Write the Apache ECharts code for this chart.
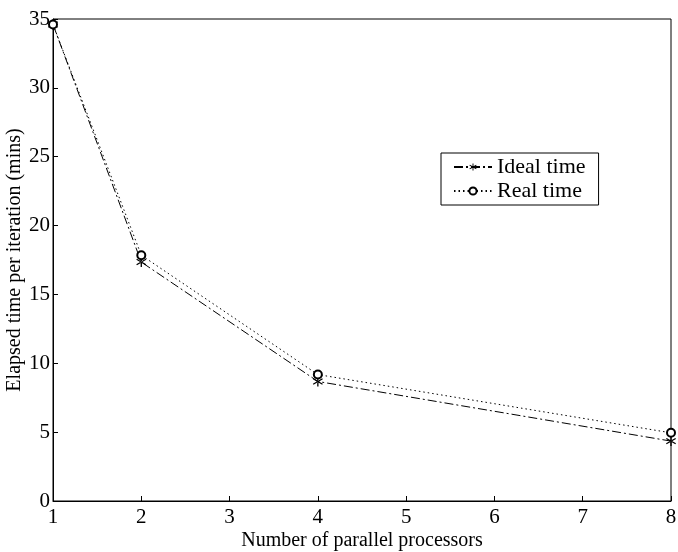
<!DOCTYPE html>
<html>
<head>
<meta charset="utf-8">
<script src="https://cdn.jsdelivr.net/npm/echarts@6/dist/echarts.min.js"></script>
<style>
html, body { margin: 0; padding: 0; background: #fff; }
#chart { width: 678px; height: 552px; }
</style>
</head>
<body>
<div id="chart"></div>
<script>
var processors = [1, 2, 4, 8];
var idealTime = [34.6, 17.35, 8.68, 4.35];
var realTime = [34.6, 17.85, 9.18, 4.95];

var starPath = 'path://M-0.6,-5 L0.6,-5 L0.6,5 L-0.6,5 Z M-4.6,-2.2 L-4.0,-3.2 L4.6,2.2 L4.0,3.2 Z M-4.6,2.2 L-4.0,3.2 L4.6,-2.2 L4.0,-3.2 Z';

function pairs(xs, ys) {
	var out = [];
	for (var i = 0; i < xs.length; i++) out.push([xs[i], ys[i]]);
	return out;
}

var chart = echarts.init(document.getElementById('chart'));
var font = '"Liberation Serif", "DejaVu Serif", serif';
var option = {
	backgroundColor: '#fff',
	animation: false,
	textStyle: { fontFamily: font, color: '#000' },
	grid: {
		left: 53, right: 7, top: 19, bottom: 51,
		outerBoundsMode: 'none',
		containLabel: false,
		show: true, borderColor: '#000', borderWidth: 1
	},
	legend: {
		left: 441, top: 153,
		orient: 'vertical',
		itemWidth: 38, itemHeight: 9, itemGap: 2,
		padding: [3, 13, 3, 12],
		borderColor: '#000', borderWidth: 1, borderRadius: 0,
		backgroundColor: '#fff',
		textStyle: { fontFamily: font, fontSize: 22, color: '#000' },
		data: ['Ideal time', 'Real time']
	},
	xAxis: {
		type: 'value', min: 1, max: 8, interval: 1,
		name: 'Number of parallel processors',
		nameLocation: 'middle', nameGap: 30,
		nameMoveOverlap: false,
		nameTextStyle: { fontFamily: font, fontSize: 20, color: '#000' },
		axisLine: { lineStyle: { color: '#000', width: 1 } },
		axisTick: { inside: true, length: 5, lineStyle: { color: '#000' } },
		axisLabel: { fontFamily: font, fontSize: 21, color: '#000', margin: 6 },
		splitLine: { show: false }
	},
	yAxis: {
		type: 'value', min: 0, max: 35, interval: 5,
		name: 'Elapsed time per iteration (mins)',
		nameLocation: 'middle', nameGap: 28,
		nameMoveOverlap: false,
		nameTextStyle: { fontFamily: font, fontSize: 20, color: '#000' },
		axisLine: { lineStyle: { color: '#000', width: 1 } },
		axisTick: { inside: true, length: 5, lineStyle: { color: '#000' } },
		axisLabel: { fontFamily: font, fontSize: 21, color: '#000', margin: 3 },
		splitLine: { show: false }
	},
	series: [{
		name: 'Ideal time',
		type: 'line',
		clip: false,
		data: pairs(processors, idealTime),
		symbol: starPath,
		symbolSize: 10,
		itemStyle: { color: '#000', borderWidth: 0 },
		lineStyle: { color: '#000', width: 1, type: [9, 3, 2, 3] }
	}, {
		name: 'Real time',
		type: 'line',
		clip: false,
		data: pairs(processors, realTime),
		symbol: 'emptyCircle',
		symbolSize: 8,
		itemStyle: { color: '#000', borderColor: '#000', borderWidth: 0.8 },
		lineStyle: { color: '#000', width: 1, type: [1.5, 3] }
	}]
};
chart.setOption(option);
</script>
</body>
</html>
